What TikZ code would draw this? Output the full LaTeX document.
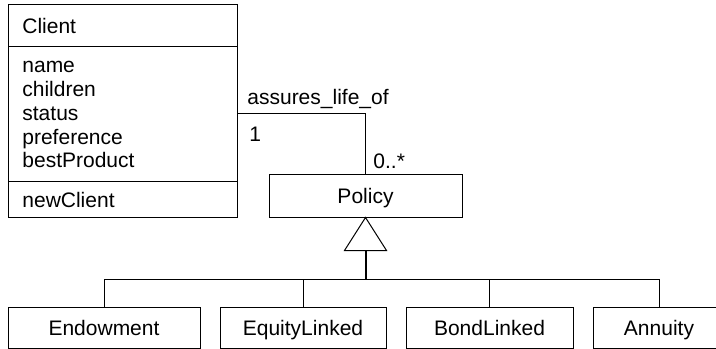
\documentclass[tikz,border=0pt]{standalone}
\usepackage{fontspec}
\setmainfont{Liberation Sans}
\begin{document}
\begin{tikzpicture}[x=0.5pt,y=-0.5pt,
  every node/.style={font=\fontsize{10.5}{12}\selectfont, inner sep=0pt},
  umlline/.style={line width=0.5pt},
  classbox/.style={draw, umlline, minimum height=20.5pt, text height=7.5pt, text depth=0pt},
  txt/.style={anchor=base west}]
  \clip (0,0) rectangle (716,348);

  % Client class: name, attributes, operations
  \node[draw, umlline, minimum width=114.5pt, minimum height=106.5pt] (client) at (122.5,110.5) {};
  \draw[umlline] (8,46) -- (237,46);
  \draw[umlline] (8,181) -- (237,181);
  \node[txt] (cname) at (22,33.3) {Client};
  \node[txt] (a1) at (22,72.7) {name};
  \node[txt] (a2) at (22,96.5) {children};
  \node[txt] (a3) at (22,120.3) {status};
  \node[txt] (a4) at (22,144.1) {preference};
  \node[txt] (a5) at (22,167.9) {bestProduct};
  \node[txt] (op1) at (22,207) {newClient};

  % Policy and its subclasses
  \node[classbox, minimum width=96.5pt, minimum height=21.5pt] (policy) at (365.5,195.5) {Policy};
  \node[classbox, minimum width=96pt]   (endow)   at (104,327.5)   {Endowment};
  \node[classbox, minimum width=83pt]   (equity)  at (303,327.5)   {EquityLinked};
  \node[classbox, minimum width=83.5pt] (bond)    at (489.5,327.5) {BondLinked};
  \node[classbox, minimum width=66pt]   (annuity) at (659,327.5)   {Annuity};

  % association Client -- Policy
  \coordinate (assocstart) at (237,113);
  \draw[umlline] (assocstart) -| (policy.north);
  \node[txt] (assocname) at (247,104) {assures\_life\_of};
  \node[txt] (mult1) at (249,141.7) {1};
  \node[txt] (mult2) at (373,168) {0..*};

  % generalisation
  \coordinate (tribase) at (365.5,250);
  \coordinate (hub) at (365.5,279);
  \draw[umlline, line join=miter] (policy.south) -- ++(-21,33) -- ++(42,0) -- cycle;
  \draw[line width=1pt] (tribase) -- (hub);
  \draw[umlline] (endow.north) |- (annuity.north |- hub) -- (annuity.north);
  \draw[umlline] (equity.north) -- (equity.north |- hub);
  \draw[umlline] (bond.north) -- (bond.north |- hub);
\end{tikzpicture}
\end{document}
